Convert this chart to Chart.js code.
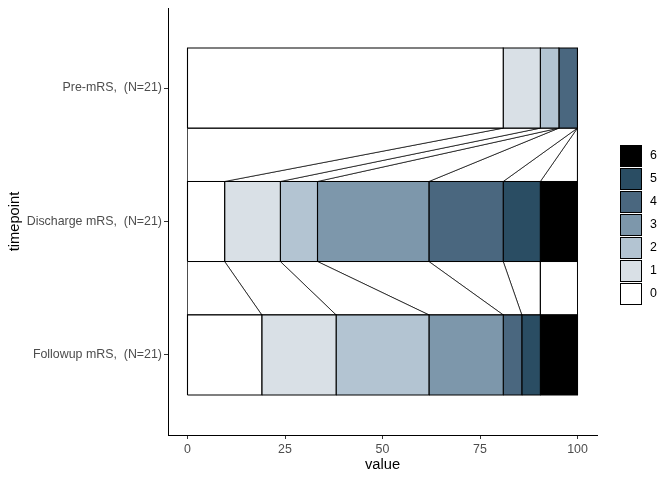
<!DOCTYPE html>
<html><head><meta charset="utf-8">
<script src="https://cdn.jsdelivr.net/npm/chart.js@4"></script>
<style>html,body{margin:0;padding:0;background:#fff;}#wrap{width:672px;height:480px;position:relative;}</style>
</head><body><div id="wrap"><canvas id="c" width="672" height="480"></canvas></div>
<script>
// ---- data ----
const levels = ['0', '1', '2', '3', '4', '5', '6'];
const levelColors = ['#ffffff', '#d9e0e6', '#b3c4d2', '#7d97ab', '#4a677f', '#2a4d63', '#000000'];
const timepoints = ['Pre-mRS,  (N=21)', 'Discharge mRS,  (N=21)', 'Followup mRS,  (N=21)'];
const timepointPos = [3, 2, 1];
const preValues = [80.95, 9.52, 4.76, 0, 4.76, 0, 0];
const dischargeValues = [9.52, 14.29, 9.52, 28.57, 19.05, 9.52, 9.52];
const followupValues = [19.05, 19.05, 23.81, 19.05, 4.76, 4.76, 9.52];
const xTicks = [0, 25, 50, 75, 100];

const series = [preValues, dischargeValues, followupValues];
function cumulative(v) { const s = [0]; v.forEach(x => s.push(s[s.length - 1] + x)); return s; }
const bounds = series.map(cumulative);
const HALF = 0.3;

const base = { showLine: true, fill: 'shape', pointRadius: 0, pointHoverRadius: 0, tension: 0, borderColor: '#000000', borderJoinStyle: 'miter' };
const datasets = [];
// connecting polygons between consecutive timepoints
for (let t = 0; t < series.length - 1; t++) {
  const up = bounds[t], lo = bounds[t + 1];
  const yu = timepointPos[t] - HALF, yl = timepointPos[t + 1] + HALF;
  for (let k = 0; k < levels.length; k++) {
    datasets.push(Object.assign({}, base, {
      label: 'flow ' + t + '-' + levels[k],
      data: [{x: up[k], y: yu}, {x: up[k + 1], y: yu}, {x: lo[k + 1], y: yl}, {x: lo[k], y: yl}, {x: up[k], y: yu}],
      backgroundColor: '#ffffff', borderWidth: 0.7, order: 2
    }));
  }
}
// stacked bars
for (let t = 0; t < series.length; t++) {
  const b = bounds[t], yc = timepointPos[t];
  for (let k = 0; k < levels.length; k++) {
    if (series[t][k] <= 0) continue;
    datasets.push(Object.assign({}, base, {
      label: timepoints[t] + ' ' + levels[k],
      data: [{x: b[k], y: yc - HALF}, {x: b[k + 1], y: yc - HALF}, {x: b[k + 1], y: yc + HALF}, {x: b[k], y: yc + HALF}, {x: b[k], y: yc - HALF}],
      backgroundColor: levelColors[k], borderWidth: 1.1, order: 1
    }));
  }
}

const FONT = "'Liberation Sans', Arial, sans-serif";
const legendPlugin = {
  id: 'mrsLegend',
  afterDraw(chart) {
    const ctx = chart.ctx;
    ctx.save();
    const x0 = 620, y0 = 145, size = 22, step = 23;
    for (let i = 0; i < levels.length; i++) {
      const k = levels.length - 1 - i;
      const y = y0 + i * step;
      ctx.fillStyle = levelColors[k];
      ctx.fillRect(x0, y, size, size);
      ctx.strokeStyle = '#000';
      ctx.lineWidth = 1;
      ctx.strokeRect(x0 + 0.5, y + 0.5, size - 1, size - 1);
      ctx.fillStyle = '#000';
      ctx.font = '12.4px ' + FONT;
      ctx.textBaseline = 'middle';
      ctx.textAlign = 'left';
      ctx.fillText(levels[k], 650, y + size / 2);
    }
    ctx.restore();
  }
};

new Chart(document.getElementById('c'), {
  type: 'line',
  data: { datasets },
  plugins: [legendPlugin],
  options: {
    responsive: false, animation: false, events: [], devicePixelRatio: 1,
    layout: { padding: { left: 0, top: 8, right: 75, bottom: 0 } },
    plugins: { legend: { display: false }, tooltip: { enabled: false } },
    scales: {
      x: {
        type: 'linear', min: -5, max: 105,
        afterBuildTicks(s) { s.ticks = xTicks.map(v => ({value: v})); },
        afterFit(s) { s.height = 45; s.paddingLeft = 0; s.paddingRight = 0; },
        grid: { drawOnChartArea: false, drawTicks: true, tickLength: 4, color: '#333333', lineWidth: 1 },
        border: { display: true, color: '#000000', width: 1 },
        ticks: { color: '#4d4d4d', font: { family: FONT, size: 12.4 }, padding: 3, maxRotation: 0, autoSkip: false },
        title: { display: true, text: 'value', color: '#000000', font: { family: FONT, size: 14.7 }, padding: { top: 0, bottom: 6 } }
      },
      y: {
        type: 'linear', min: 0.4, max: 3.6,
        afterBuildTicks(s) { s.ticks = timepointPos.map(v => ({value: v})); },
        afterFit(s) { s.width = 168; s.paddingTop = 0; s.paddingBottom = 0; },
        grid: { drawOnChartArea: false, drawTicks: true, tickLength: 4, color: '#333333', lineWidth: 1 },
        border: { display: true, color: '#000000', width: 1 },
        ticks: {
          color: '#4d4d4d', font: { family: FONT, size: 12.4 }, padding: 2, autoSkip: false,
          callback(v) { const i = timepointPos.indexOf(v); return i >= 0 ? timepoints[i] : ''; }
        },
        title: { display: true, text: 'timepoint', color: '#000000', font: { family: FONT, size: 14.7 }, padding: { top: 6, bottom: 0 } }
      }
    }
  }
});
</script></body></html>
